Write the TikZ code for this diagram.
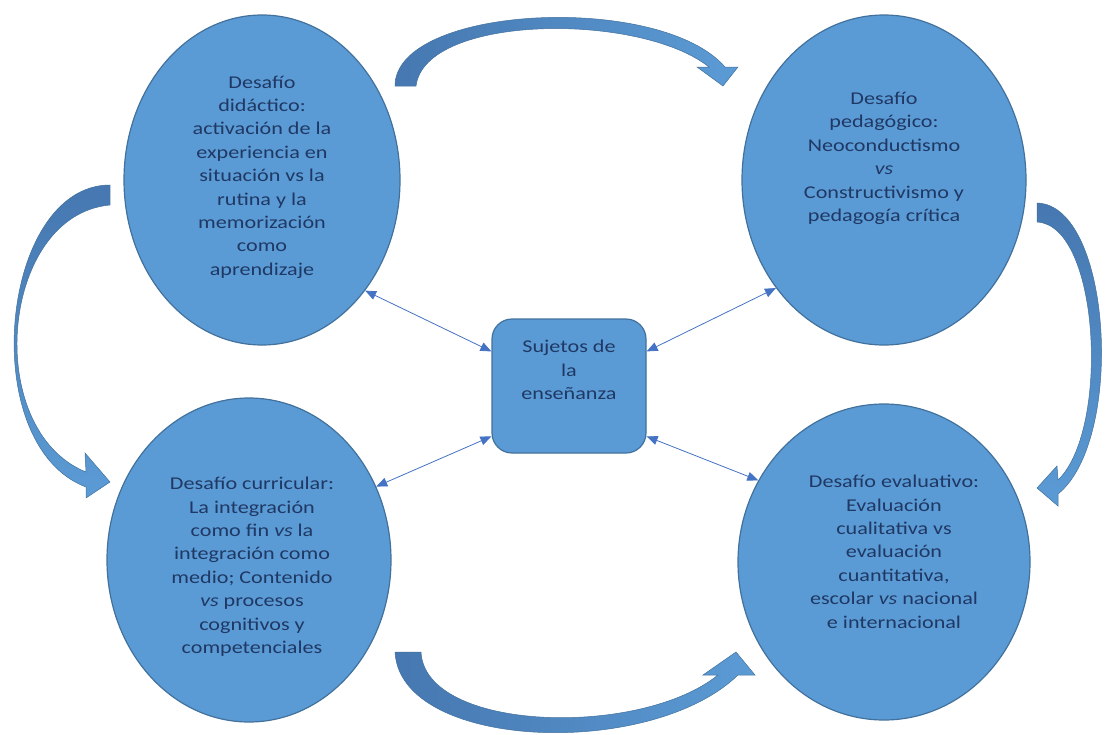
\documentclass[tikz,border=0pt]{standalone}
\usepackage{fontspec}
\setmainfont{Carlito}[FakeStretch=1.23]
\usepackage{tikz}
\usetikzlibrary{arrows.meta,positioning,shapes.geometric}
\definecolor{cajafill}{HTML}{5B9BD5}
\definecolor{cajaline}{HTML}{41719C}
\definecolor{rotulotxt}{HTML}{1F3864}
\definecolor{enlacecol}{HTML}{4472C4}
\definecolor{giroosc}{HTML}{4677B0}
\definecolor{giroclr}{HTML}{5B9BD5}

\begin{document}
\begin{tikzpicture}[x=1pt,y=-1pt,
    desafio/.style={ellipse,draw=cajaline,fill=cajafill,line width=1.2pt},
    nucleo/.style={draw=cajaline,fill=cajafill,line width=1.2pt,rounded corners=20pt,
      minimum width=154pt,minimum height=134pt},
    rotulo/.style={text=rotulotxt,align=center,inner sep=0pt,font=\fontsize{18}{23.4}\selectfont},
    enlace/.style={draw=enlacecol,line width=0.8pt,>={Triangle[length=11pt,width=9pt]},<->},
    giro/.style={draw=cajaline,line width=0.5pt}
  ]
  \useasboundingbox (0,0) rectangle (1106,734);

  \node[desafio,minimum width=276pt,minimum height=330pt] (didactico)  at (262,180) {};
  \node[desafio,minimum width=284pt,minimum height=330pt] (pedagogico) at (884,180) {};
  \node[desafio,minimum width=284pt,minimum height=324pt] (curricular) at (249,560) {};
  \node[desafio,minimum width=292pt,minimum height=316pt] (evaluativo) at (884,562) {};
  \node[nucleo] (sujetos) at (569,386) {};

  \node[rotulo,below=61pt of didactico.north] (didacticotxt)
    {Desafío\\didáctico:\\activación de la\\experiencia en\\situación vs la\\rutina y la\\memorización\\como\\aprendizaje};
  \node[rotulo,below=77.5pt of pedagogico.north] (pedagogicotxt)
    {Desafío\\pedagógico:\\Neoconductismo\\\textit{vs}\\Constructivismo y\\pedagogía crítica};
  \node[rotulo,below=79.5pt of curricular.north,xshift=3pt] (curriculartxt)
    {Desafío curricular:\\La integración\\como fin \textit{vs} la\\integración como\\medio; Contenido\\\textit{vs} procesos\\cognitivos y\\competenciales};
  \node[rotulo,below=71.5pt of evaluativo.north,xshift=10pt] (evaluativotxt)
    {Desafío evaluativo:\\Evaluación\\cualitativa vs\\evaluación\\cuantitativa,\\escolar \textit{vs} nacional\\e internacional};
  \node[rotulo,below=21.5pt of sujetos.north] (sujetostxt) {Sujetos de\\la\\enseñanza};

  \draw[enlace] (didactico.-47.5) -- (sujetos.156);
  \draw[enlace] (pedagogico.225.8) -- (sujetos.24);
  \draw[enlace] (curricular.30.2) -- (sujetos.213.5);
  \draw[enlace] (evaluativo.147.7) -- (sujetos.-33.5);

  \path[giro,left color=giroosc,right color=giroclr]
    (395,86) .. controls (395,5) and (660,-8) .. (725,67) -- (738,67) -- (723,86) -- (697,67)
    -- (709,67) .. controls (640,12) and (425,14) .. (416,86) -- cycle;
  \path[giro,top color=giroosc,bottom color=giroclr]
    (1037,203) .. controls (1112,205) and (1125,440) .. (1058,494) -- (1058,506) -- (1037,488)
    -- (1057,466) -- (1058,480) .. controls (1110,430) and (1100,225) .. (1037,222) -- cycle;
  \path[giro,top color=giroosc,bottom color=giroclr]
    (110,185) .. controls (0,185) and (-25,445) .. (86,487) -- (86,498) -- (110,482) -- (85,453)
    -- (86,472) .. controls (-18,430) and (0,215) .. (110,205) -- cycle;
  \path[giro,left color=giroosc,right color=giroclr]
    (395,652) .. controls (400,750) and (650,760) .. (738,675) -- (755,675) -- (736,652)
    -- (703,675) -- (718,675) .. controls (640,738) and (425,732) .. (421,652) -- cycle;
\end{tikzpicture}
\end{document}
